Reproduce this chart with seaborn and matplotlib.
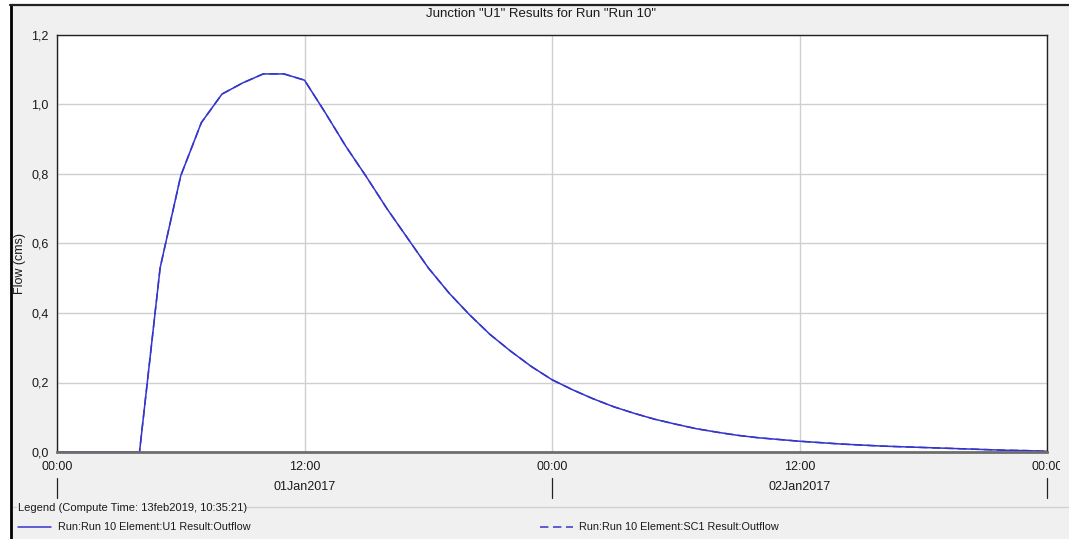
import numpy as np
import pandas as pd
import matplotlib
matplotlib.use("Agg")
import matplotlib.pyplot as plt
import seaborn as sns
from matplotlib.lines import Line2D
from matplotlib.patches import Rectangle
from matplotlib.transforms import Bbox

# Hourly outflow hydrograph (hours since 01Jan2017 00:00)
hours = list(range(0, 49))
u1_outflow = [
    0.000, 0.000, 0.000, 0.000, 0.000, 0.530, 0.795, 0.948, 1.030, 1.062,
    1.088, 1.088, 1.070, 0.977, 0.880, 0.792, 0.700, 0.615, 0.530, 0.458,
    0.395, 0.338, 0.290, 0.246, 0.208, 0.179, 0.153, 0.130, 0.111, 0.094,
    0.080, 0.067, 0.057, 0.048, 0.041, 0.036, 0.031, 0.027, 0.023, 0.020,
    0.017, 0.015, 0.013, 0.011, 0.009, 0.007, 0.005, 0.004, 0.002,
]
sc1_outflow = list(u1_outflow)

title = 'Junction "U1" Results for Run "Run 10"'
ylabel = "Flow (cms)"
y_ticks = [0.0, 0.2, 0.4, 0.6, 0.8, 1.0, 1.2]
x_ticks = [0, 12, 24, 36, 48]
x_tick_labels = ["00:00", "12:00", "00:00", "12:00", "00:00"]
day_centers = [12, 36]
day_labels = ["01Jan2017", "02Jan2017"]
day_bounds = [0, 24, 48]
legend_title = "Legend (Compute Time: 13feb2019, 10:35:21)"
series_names = ["Run:Run 10 Element:U1 Result:Outflow",
                "Run:Run 10 Element:SC1 Result:Outflow"]

W, H = 1069, 539
BLUE = "#3535CC"
TXT = "#1a1a1a"
DASH = (5.5, 3)

sns.set_style("white")
plt.rcParams["font.family"] = ["Liberation Sans", "DejaVu Sans"]


def fx(px):
    return px / W


def fy(py):
    return 1 - py / H


fig = plt.figure(figsize=(W / 100, H / 100), dpi=100)
fig.patch.set_facecolor("white")

# panel background and frame
fig.add_artist(Rectangle((fx(10), 0), 1 - fx(10), fy(5), transform=fig.transFigure,
                         facecolor="#F0F0F0", edgecolor="none", zorder=0))
fig.add_artist(Line2D([fx(11), fx(11)], [0, fy(5)], transform=fig.transFigure,
                      color="black", lw=2.0, zorder=1))
fig.add_artist(Line2D([fx(10), 1], [fy(5), fy(5)], transform=fig.transFigure,
                      color="#222222", lw=1.6, zorder=1))

ax = fig.add_axes([fx(57), fy(452), (1047 - 57) / W, (452 - 35) / H])
ax.set_facecolor("white")

df = pd.DataFrame({
    "hour": hours * 2,
    "flow": u1_outflow + sc1_outflow,
    "series": [series_names[0]] * len(hours) + [series_names[1]] * len(hours),
})
sns.lineplot(data=df, x="hour", y="flow", hue="series", style="series",
             palette=[BLUE, BLUE], dashes=["", DASH], linewidth=1.1,
             ax=ax, legend=False)

ax.set_xlim(0, 48)
ax.set_ylim(0, 1.2)
ax.set_xticks(x_ticks)
ax.set_xticklabels(x_tick_labels)
ax.set_yticks(y_ticks)
ax.set_yticklabels([f"{v:.1f}".replace(".", ",") for v in y_ticks])
ax.set_xlabel("")
ax.set_ylabel("")
ax.grid(True, color="#CFCFCF", lw=1.0)
ax.set_axisbelow(True)

for side in ["left", "top", "right"]:
    ax.spines[side].set_color("#222222")
    ax.spines[side].set_linewidth(1.0)
ax.spines["bottom"].set_color("#6E6E6E")
ax.spines["bottom"].set_linewidth(2.0)

ax.tick_params(axis="y", direction="out", length=4, width=0.8, color="#222222",
               labelsize=9, labelcolor=TXT, pad=2)
ax.tick_params(axis="x", direction="inout", length=9, width=0.8, color="#222222",
               labelsize=9, labelcolor=TXT, pad=2)

fig.canvas.draw()
clip = Bbox.from_extents(0, 0, 1060, H)
for lab in ax.get_xticklabels():
    lab.set_clip_on(True)
    lab.set_clip_box(clip)

# date row beneath the time ticks
xt = ax.get_xaxis_transform()
for xc, lab in zip(day_centers, day_labels):
    ax.text(xc, -(487 - 452) / 417, lab, transform=xt, ha="center", va="center",
            fontsize=9, color=TXT, clip_on=False)
for xb in day_bounds:
    ax.plot([xb, xb], [-(478 - 452) / 417, -(498 - 452) / 417], transform=xt,
            color="#222222", lw=0.9, clip_on=False)

fig.text(fx(20), fy(264), ylabel, rotation=90, ha="center", va="center",
         fontsize=9, color=TXT)
fig.text(fx(541), fy(14), title, ha="center", va="center", fontsize=9.5, color=TXT)

# legend group box
fig.text(fx(18), fy(508), legend_title, ha="left", va="center", fontsize=8, color=TXT)
fig.add_artist(Line2D([fx(13), fx(16)], [fy(507), fy(507)], transform=fig.transFigure,
                      color="#D0D0D0", lw=0.9))
fig.add_artist(Line2D([fx(246), 1], [fy(507), fy(507)], transform=fig.transFigure,
                      color="#D0D0D0", lw=0.9))
fig.add_artist(Line2D([fx(18), fx(51)], [fy(527), fy(527)], transform=fig.transFigure,
                      color=BLUE, lw=1.1))
fig.text(fx(58), fy(527), series_names[0], ha="left", va="center", fontsize=7.8, color=TXT)
fig.add_artist(Line2D([fx(540), fx(573)], [fy(527), fy(527)], transform=fig.transFigure,
                      color=BLUE, lw=1.1, dashes=DASH))
fig.text(fx(579), fy(527), series_names[1], ha="left", va="center", fontsize=7.8, color=TXT)

fig.savefig("out.png", dpi=100)
